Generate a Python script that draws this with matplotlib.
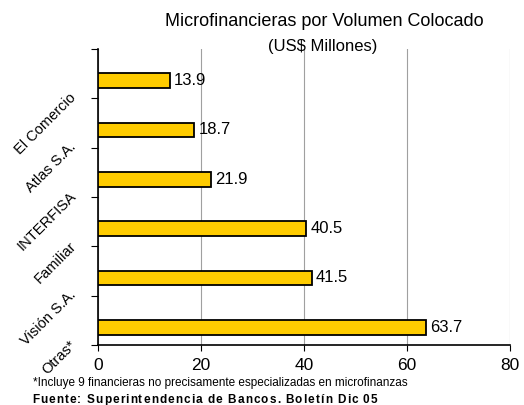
import matplotlib.pyplot as plt
import matplotlib.transforms as mtransforms

plt.rcParams['font.family'] = ['Liberation Sans', 'DejaVu Sans']

# data
categories = ['El Comercio', 'Atlas S.A.', 'INTERFISA', 'Familiar', 'Visión S.A.', 'Otras*']
values = [13.9, 18.7, 21.9, 40.5, 41.5, 63.7]
x_ticks = [0, 20, 40, 60, 80]

fig = plt.figure(figsize=(5.24, 4.05), dpi=100)
ax = fig.add_axes([0.187, 0.148, 0.786, 0.731])

pos = [i + 0.5 for i in range(len(categories))]
bar_pos = [p + 0.14 for p in pos]   # bars sit a bit low in each band
ax.barh(bar_pos, values, height=0.3, color='#FFCC00', edgecolor='black', linewidth=1.3, zorder=3)

for y, v in zip(bar_pos, values):
    ax.annotate(f"{v:.1f}", (v, y), xytext=(3, 0), textcoords='offset points',
                va='center', ha='left', fontsize=12)

ax.set_xlim(0, 80)
ax.set_ylim(len(categories), 0)
ax.set_xticks(x_ticks)
ax.set_yticks(range(len(categories) + 1))
ax.set_yticklabels([])
ax.tick_params(axis='x', labelsize=12.5, length=4, direction='out', pad=5)
ax.tick_params(axis='y', length=5, direction='out')
ax.grid(axis='x', color='#a0a0a0', linewidth=0.8, zorder=0)
ax.spines['top'].set_visible(False)
ax.spines['right'].set_visible(False)
for s in ['left', 'bottom']:
    ax.spines[s].set_linewidth(1.2)

# rotated category labels, offset like the original
trans = mtransforms.blended_transform_factory(ax.transAxes, ax.transData)
off = mtransforms.ScaledTranslation(-24 / 100, -22 / 100, fig.dpi_scale_trans)
for p, c in zip(pos, categories):
    ax.text(0, p, c, transform=trans + off, rotation=45, rotation_mode='anchor',
            ha='right', va='center', fontsize=10.5)

fig.text(0.618, 0.947, "Microfinancieras por Volumen Colocado", ha='center', va='center', fontsize=13)
fig.text(0.615, 0.885, "(US$ Millones)", ha='center', va='center', fontsize=12)
fig.text(0.063, 0.054, "*Incluye 9 financieras no precisamente especializadas en microfinanzas",
         ha='left', va='center', fontsize=8.5)

# source line with slightly wider letter spacing, one character at a time
source = "Fuente: Superintendencia de Bancos. Boletín Dic 05"
renderer = fig.canvas.get_renderer()
x = 32
for ch in source:
    t = fig.text(x / 524, 0.013, ch, ha='left', va='center', fontsize=8.5, fontweight='bold')
    if ch == ' ':
        w = 3.0
    else:
        w = t.get_window_extent(renderer).width
    x += w + 1.1

fig.savefig("out.png", dpi=100)
